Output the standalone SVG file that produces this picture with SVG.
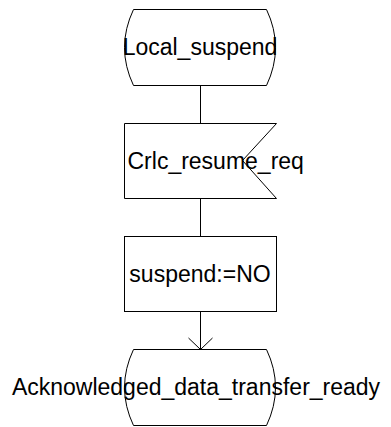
<svg xmlns="http://www.w3.org/2000/svg" width="391" height="427" viewBox="0 0 391 427">
<style>
.s{fill:#fff;stroke:#000;stroke-width:1}
.c{fill:none;stroke:#000;stroke-width:1}
text{font-family:"Liberation Sans",Arial,sans-serif;font-size:23px;fill:#000}
</style>
<rect width="391" height="427" fill="#fff"/>
<g id="connectors">
<line class="c" x1="200.5" y1="85.5" x2="200.5" y2="123.5"/>
<line class="c" x1="200.5" y1="198.5" x2="200.5" y2="236.5"/>
<line class="c" x1="200.5" y1="311.5" x2="200.5" y2="349.5"/>
<polyline class="c" points="188.5,338 200.5,349.5 212.5,338"/>
</g>
<g id="local_suspend">
<path class="s" d="M133.5,9.5 L266.5,9.5 Q284.5,47.5 266.5,85.5 L133.5,85.5 Q115.5,47.5 133.5,9.5 Z"/>
<text x="200" y="55" text-anchor="middle">Local_suspend</text>
</g>
<g id="crlc_resume_req">
<path class="s" d="M124.5,123.5 L276.5,123.5 L242.5,160.5 L276.5,198.5 L124.5,198.5 Z"/>
<text x="127.5" y="168.5">Crlc_resume_req</text>
</g>
<g id="suspend_no">
<rect class="s" x="124.5" y="236.5" width="152" height="75"/>
<text x="200" y="282" text-anchor="middle">suspend:=NO</text>
</g>
<g id="ack_ready">
<path class="s" d="M133.5,349.5 L266.5,349.5 Q284.5,387.5 266.5,425.5 L133.5,425.5 Q115.5,387.5 133.5,349.5 Z"/>
<text x="196" y="395" text-anchor="middle">Acknowledged_data_transfer_ready</text>
</g>
</svg>
